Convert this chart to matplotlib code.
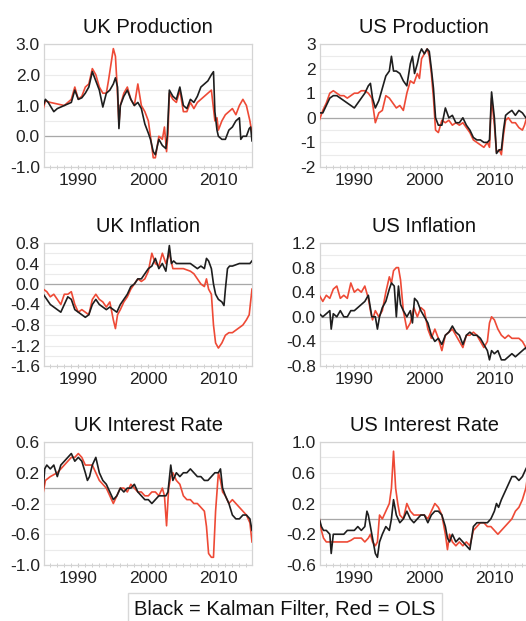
import numpy as np
import matplotlib
matplotlib.use('Agg')
import matplotlib.pyplot as plt
from matplotlib.ticker import MultipleLocator, FixedLocator

plt.rcParams['font.family'] = ['Liberation Sans', 'DejaVu Sans']

#**************** data ****************#
# UK Production
ukp_kf_t = [1985.0, 1985.3, 1985.7, 1986.5, 1987.0, 1988.0, 1988.5, 1989.0, 1989.5, 1990.0, 1990.5, 1991.0, 1991.5,
            1992.0, 1992.5, 1993.0, 1993.5, 1994.0, 1994.5, 1995.0, 1995.3, 1995.6, 1995.8, 1996.0, 1996.5, 1997.0,
            1997.5, 1998.0, 1998.5, 1999.0, 1999.5, 2000.0, 2000.3, 2000.7, 2001.0, 2001.5, 2002.0, 2002.5, 2002.7,
            2003.0, 2003.5, 2004.0, 2004.5, 2005.0, 2005.5, 2006.0, 2006.5, 2007.0, 2007.5, 2008.0, 2008.5, 2009.0,
            2009.3, 2009.5, 2009.8, 2010.0, 2010.5, 2011.0, 2011.5, 2012.0, 2012.5, 2013.0, 2013.2, 2013.5, 2014.0,
            2014.4, 2014.6, 2014.8]
ukp_kf = [1.0, 1.2, 1.1, 0.8, 0.9, 1.0, 1.05, 1.1, 1.5, 1.2, 1.25, 1.4, 1.6,
          2.1, 1.8, 1.5, 0.95, 1.4, 1.5, 1.7, 1.9, 1.6, 0.25, 1.0, 1.3, 1.5,
          1.2, 1.0, 1.1, 0.9, 0.4, 0.1, -0.1, -0.5, -0.6, -0.1, -0.3, -0.4, 0.0,
          1.5, 1.3, 1.2, 1.6, 1.0, 0.9, 1.2, 1.1, 1.3, 1.6, 1.7, 1.8, 2.0,
          2.1, 0.8, 0.2, 0.0, -0.1, -0.1, 0.2, 0.3, 0.5, 0.6, -0.1, 0.0, 0.0,
          0.25, 0.3, -0.15]
ukp_ols_t = [1985.0, 1985.3, 1986.0, 1987.0, 1988.0, 1988.5, 1989.0, 1989.5, 1990.0, 1990.5, 1991.0, 1991.5, 1992.0,
             1992.5, 1993.0, 1993.5, 1994.0, 1994.3, 1994.7, 1995.0, 1995.3, 1995.5, 1995.8, 1996.0, 1996.5, 1997.0,
             1997.5, 1998.0, 1998.5, 1999.0, 1999.5, 2000.0, 2000.3, 2000.7, 2001.0, 2001.5, 2002.0, 2002.3, 2002.6,
             2002.8, 2003.0, 2003.5, 2004.0, 2004.5, 2005.0, 2005.5, 2006.0, 2006.5, 2007.0, 2007.5, 2008.0, 2008.5,
             2009.0, 2009.5, 2009.8, 2010.0, 2010.5, 2011.0, 2011.5, 2012.0, 2012.5, 2013.0, 2013.5, 2014.0, 2014.5,
             2014.8]
ukp_ols = [0.9, 1.15, 1.1, 1.05, 1.0, 1.1, 1.2, 1.6, 1.2, 1.3, 1.6, 1.7, 2.2,
           2.0, 1.6, 1.4, 1.4, 1.8, 2.4, 2.85, 2.6, 1.8, 0.4, 1.0, 1.4, 1.6,
           1.2, 1.0, 1.7, 1.0, 0.8, 0.5, 0.0, -0.7, -0.7, 0.0, -0.1, 0.3, -0.5,
           0.1, 1.4, 1.2, 1.1, 1.5, 0.8, 0.8, 1.1, 0.9, 1.1, 1.2, 1.3, 1.4,
           1.5, 0.5, 0.6, 0.2, 0.5, 0.7, 0.8, 0.9, 0.7, 1.0, 1.2, 1.0, 0.5,
           0.1]

# US Production
usp_kf_t = [1985.0, 1985.5, 1986.0, 1986.5, 1987.0, 1987.5, 1988.0, 1988.5, 1989.0, 1989.5, 1990.0, 1990.5, 1991.0,
            1991.5, 1992.0, 1992.3, 1992.6, 1993.0, 1993.5, 1994.0, 1994.5, 1995.0, 1995.3, 1995.6, 1996.0, 1996.5,
            1997.0, 1997.5, 1998.0, 1998.3, 1998.6, 1999.0, 1999.3, 1999.6, 2000.0, 2000.4, 2000.7, 2001.0, 2001.3,
            2001.6, 2002.0, 2002.5, 2003.0, 2003.5, 2004.0, 2004.5, 2005.0, 2005.5, 2006.0, 2006.5, 2007.0, 2007.5,
            2008.0, 2008.5, 2009.0, 2009.3, 2009.6, 2010.0, 2010.3, 2010.7, 2011.0, 2011.3, 2011.6, 2012.0, 2012.5,
            2013.0, 2013.5, 2014.0, 2014.5, 2014.8]
usp_kf = [0.2, 0.2, 0.5, 0.8, 0.9, 0.9, 0.8, 0.7, 0.6, 0.5, 0.4, 0.6, 0.8,
          1.0, 1.3, 1.4, 0.8, 0.4, 0.7, 1.2, 1.7, 1.9, 2.5, 1.9, 1.9, 1.8,
          1.5, 1.3, 2.2, 2.5, 1.8, 2.2, 2.6, 2.8, 2.6, 2.8, 2.7, 2.0, 1.2,
          0.0, -0.3, -0.3, 0.4, 0.0, 0.1, -0.2, -0.2, 0.0, -0.3, -0.5, -0.8, -0.9,
          -0.9, -1.0, -1.0, -0.9, 1.05, 0.0, -1.45, -1.3, -1.3, -0.5, 0.1, 0.2, 0.3,
          0.1, 0.3, 0.2, 0.0, 0.05]
usp_ols_t = [1985.0, 1985.5, 1986.0, 1986.5, 1987.0, 1987.5, 1988.0, 1988.5, 1989.0, 1989.5, 1990.0, 1990.5, 1991.0,
             1991.5, 1992.0, 1992.5, 1993.0, 1993.5, 1994.0, 1994.5, 1995.0, 1995.5, 1996.0, 1996.5, 1997.0, 1997.5,
             1998.0, 1998.5, 1999.0, 1999.3, 1999.6, 2000.0, 2000.4, 2000.7, 2001.0, 2001.3, 2001.6, 2002.0, 2002.5,
             2003.0, 2003.5, 2004.0, 2004.5, 2005.0, 2005.5, 2006.0, 2006.5, 2007.0, 2007.5, 2008.0, 2008.5, 2009.0,
             2009.3, 2009.6, 2010.0, 2010.3, 2010.7, 2011.0, 2011.3, 2011.6, 2012.0, 2012.5, 2013.0, 2013.5, 2014.0,
             2014.3, 2014.8]
usp_ols = [-0.1, 0.3, 0.6, 1.0, 1.1, 1.0, 0.9, 0.9, 0.8, 0.9, 1.0, 1.0, 1.1,
           1.1, 1.0, 0.8, -0.2, 0.2, 0.3, 0.9, 0.8, 0.6, 0.4, 0.5, 0.3, 1.0,
           1.5, 1.4, 1.8, 1.6, 2.4, 2.6, 2.8, 2.5, 1.8, 0.8, -0.5, -0.6, -0.1,
           -0.2, -0.1, -0.3, -0.2, -0.3, -0.2, -0.4, -0.6, -0.9, -1.0, -1.1, -1.2, -1.0,
           -1.2, 0.8, -0.3, -1.4, -1.3, -1.5, -0.7, -0.1, 0.0, -0.2, -0.2, -0.4, -0.5,
           -0.3, 0.2]

# UK Inflation
uki_kf_t = [1985.0, 1985.5, 1986.0, 1986.5, 1987.0, 1987.5, 1988.0, 1988.5, 1989.0, 1989.5, 1990.0, 1990.5, 1991.0,
            1991.5, 1992.0, 1992.5, 1993.0, 1993.5, 1994.0, 1994.5, 1995.0, 1995.5, 1996.0, 1996.5, 1997.0, 1997.5,
            1998.0, 1998.5, 1999.0, 1999.5, 2000.0, 2000.5, 2001.0, 2001.5, 2002.0, 2002.5, 2003.0, 2003.3, 2003.6,
            2004.0, 2005.0, 2006.0, 2006.5, 2007.0, 2007.5, 2008.0, 2008.3, 2008.6, 2009.0, 2009.3, 2009.6, 2010.0,
            2010.5, 2010.8, 2011.0, 2011.3, 2011.6, 2012.0, 2013.0, 2014.0, 2014.5, 2014.8]
uki_kf = [-0.2, -0.3, -0.4, -0.45, -0.5, -0.55, -0.4, -0.25, -0.3, -0.5, -0.55, -0.6, -0.65,
          -0.6, -0.4, -0.3, -0.4, -0.45, -0.5, -0.45, -0.5, -0.55, -0.4, -0.3, -0.2, -0.05,
          0.0, 0.1, 0.1, 0.2, 0.3, 0.35, 0.5, 0.3, 0.4, 0.25, 0.75, 0.4, 0.45,
          0.4, 0.4, 0.4, 0.35, 0.3, 0.35, 0.3, 0.5, 0.45, 0.3, 0.0, -0.2, -0.3,
          -0.35, -0.42, -0.1, 0.3, 0.35, 0.35, 0.4, 0.4, 0.4, 0.45]
uki_ols_t = [1985.0, 1985.5, 1986.0, 1986.5, 1987.0, 1987.5, 1988.0, 1988.5, 1989.0, 1989.5, 1990.0, 1990.5, 1991.0,
             1991.5, 1992.0, 1992.5, 1993.0, 1993.5, 1994.0, 1994.5, 1995.0, 1995.3, 1995.6, 1996.0, 1996.5, 1997.0,
             1997.5, 1998.0, 1998.5, 1999.0, 1999.5, 2000.0, 2000.5, 2001.0, 2001.5, 2002.0, 2002.5, 2003.0, 2003.5,
             2004.0, 2005.0, 2006.0, 2006.5, 2007.0, 2007.5, 2008.0, 2008.3, 2008.6, 2009.0, 2009.3, 2009.6, 2010.0,
             2010.5, 2011.0, 2011.5, 2012.0, 2012.5, 2013.0, 2013.5, 2014.0, 2014.4, 2014.8]
uki_ols = [-0.1, -0.15, -0.25, -0.2, -0.3, -0.4, -0.2, -0.2, -0.15, -0.4, -0.55, -0.5, -0.55,
           -0.6, -0.3, -0.2, -0.3, -0.35, -0.45, -0.35, -0.7, -0.87, -0.6, -0.5, -0.35, -0.25,
           -0.1, 0.0, 0.1, 0.05, 0.1, 0.25, 0.6, 0.4, 0.35, 0.6, 0.4, 0.6, 0.3,
           0.3, 0.3, 0.25, 0.2, 0.1, 0.0, -0.05, 0.1, -0.1, -0.2, -0.8, -1.15, -1.25,
           -1.15, -1.0, -0.95, -0.95, -0.9, -0.85, -0.8, -0.7, -0.6, -0.1]

# US Inflation
usi_kf_t = [1985.0, 1985.5, 1986.0, 1986.5, 1986.7, 1987.0, 1987.5, 1988.0, 1988.5, 1989.0, 1989.5, 1990.0, 1990.5,
            1991.0, 1991.5, 1992.0, 1992.5, 1993.0, 1993.3, 1993.6, 1994.0, 1994.5, 1995.0, 1995.3, 1995.7, 1996.0,
            1996.3, 1996.6, 1997.0, 1997.5, 1998.0, 1998.3, 1998.6, 1999.0, 1999.5, 2000.0, 2000.5, 2001.0, 2001.5,
            2002.0, 2002.5, 2003.0, 2003.5, 2004.0, 2004.5, 2005.0, 2005.5, 2006.0, 2006.5, 2007.0, 2007.5, 2008.0,
            2008.5, 2009.0, 2009.3, 2009.6, 2010.0, 2010.5, 2011.0, 2011.5, 2012.0, 2012.5, 2013.0, 2013.5, 2014.0,
            2014.5, 2014.8]
usi_kf = [0.05, 0.0, 0.05, 0.1, -0.2, 0.05, 0.0, 0.1, 0.0, 0.0, 0.1, 0.1, 0.15,
          0.2, 0.25, 0.35, 0.0, 0.0, -0.2, 0.0, 0.15, 0.25, 0.45, 0.55, 0.5, 0.0,
          0.5, 0.2, 0.1, 0.0, 0.1, -0.1, 0.3, 0.25, 0.1, 0.0, -0.1, -0.3, -0.4,
          -0.35, -0.45, -0.3, -0.25, -0.15, -0.25, -0.3, -0.45, -0.3, -0.25, -0.3, -0.3, -0.35,
          -0.45, -0.55, -0.7, -0.55, -0.6, -0.55, -0.7, -0.7, -0.65, -0.6, -0.65, -0.6, -0.55,
          -0.5, -0.6]
usi_ols_t = [1985.0, 1985.5, 1986.0, 1986.5, 1987.0, 1987.5, 1988.0, 1988.5, 1989.0, 1989.5, 1990.0, 1990.5, 1991.0,
             1991.5, 1992.0, 1992.3, 1992.6, 1993.0, 1993.5, 1994.0, 1994.5, 1995.0, 1995.3, 1995.6, 1996.0, 1996.3,
             1996.6, 1997.0, 1997.5, 1998.0, 1998.5, 1999.0, 1999.5, 2000.0, 2000.5, 2001.0, 2001.5, 2002.0, 2002.5,
             2003.0, 2003.5, 2004.0, 2004.5, 2005.0, 2005.5, 2006.0, 2006.5, 2007.0, 2007.5, 2008.0, 2008.5, 2009.0,
             2009.3, 2009.6, 2010.0, 2010.5, 2011.0, 2011.5, 2012.0, 2012.5, 2013.0, 2013.5, 2014.0, 2014.5, 2014.8]
usi_ols = [0.35, 0.25, 0.35, 0.3, 0.45, 0.5, 0.3, 0.35, 0.3, 0.55, 0.4, 0.45, 0.4,
           0.5, 0.3, 0.1, -0.05, 0.1, 0.0, 0.1, 0.4, 0.65, 0.55, 0.75, 0.8, 0.8,
           0.6, 0.1, -0.2, -0.1, 0.15, 0.0, 0.15, 0.1, -0.2, -0.35, -0.2, -0.35, -0.55,
           -0.3, -0.25, -0.2, -0.3, -0.4, -0.5, -0.3, -0.3, -0.25, -0.3, -0.4, -0.5, -0.4,
           -0.1, 0.0, -0.05, -0.2, -0.3, -0.35, -0.3, -0.35, -0.35, -0.35, -0.4, -0.5, -0.45]

# UK Interest Rate
ukr_kf_t = [1985.0, 1985.2, 1985.5, 1986.0, 1986.5, 1987.0, 1987.5, 1988.0, 1988.5, 1989.0, 1989.5, 1990.0, 1990.5,
            1991.0, 1991.3, 1991.6, 1992.0, 1992.5, 1993.0, 1993.5, 1994.0, 1994.5, 1995.0, 1995.5, 1996.0, 1996.5,
            1997.0, 1997.5, 1998.0, 1998.5, 1999.0, 1999.5, 2000.0, 2000.5, 2001.0, 2001.5, 2002.0, 2002.5, 2002.8,
            2003.2, 2003.5, 2004.0, 2004.5, 2005.0, 2005.5, 2006.0, 2006.5, 2007.0, 2007.5, 2008.0, 2008.5, 2009.0,
            2009.5, 2010.0, 2010.3, 2010.6, 2011.0, 2011.5, 2012.0, 2012.5, 2013.0, 2013.5, 2014.0, 2014.5, 2014.8]
ukr_kf = [0.0, 0.25, 0.3, 0.25, 0.3, 0.15, 0.3, 0.35, 0.4, 0.45, 0.35, 0.4, 0.35,
          0.2, 0.1, 0.15, 0.3, 0.4, 0.2, 0.1, 0.05, -0.05, -0.15, -0.1, 0.0, -0.05,
          0.0, 0.0, 0.05, -0.05, -0.1, -0.15, -0.15, -0.2, -0.15, -0.1, -0.1, -0.1, -0.05,
          0.3, 0.1, 0.2, 0.15, 0.2, 0.2, 0.25, 0.2, 0.15, 0.15, 0.1, 0.1, 0.15,
          0.2, 0.2, 0.25, 0.0, -0.1, -0.2, -0.35, -0.4, -0.4, -0.35, -0.35, -0.4, -0.55]
ukr_ols_t = [1985.0, 1985.3, 1986.0, 1987.0, 1987.5, 1988.0, 1988.5, 1989.0, 1989.5, 1990.0, 1990.5, 1991.0, 1991.5,
             1992.0, 1992.5, 1993.0, 1993.5, 1994.0, 1994.5, 1995.0, 1995.5, 1996.0, 1996.5, 1997.0, 1997.5, 1998.0,
             1998.5, 1999.0, 1999.5, 2000.0, 2000.5, 2001.0, 2001.5, 2002.0, 2002.3, 2002.6, 2002.9, 2003.2, 2003.5,
             2004.0, 2004.5, 2005.0, 2005.5, 2006.0, 2006.5, 2007.0, 2007.5, 2008.0, 2008.3, 2008.6, 2009.0, 2009.3,
             2009.6, 2010.0, 2010.3, 2010.6, 2011.0, 2011.5, 2012.0, 2012.5, 2013.0, 2013.5, 2014.0, 2014.5, 2014.8]
ukr_ols = [-0.05, 0.1, 0.15, 0.2, 0.25, 0.3, 0.35, 0.4, 0.4, 0.45, 0.4, 0.3, 0.3,
           0.3, 0.2, 0.1, 0.05, 0.0, -0.1, -0.2, -0.1, 0.0, 0.0, -0.05, 0.05, 0.0,
           -0.05, -0.05, -0.1, -0.1, -0.05, -0.05, -0.1, 0.0, -0.1, -0.49, 0.0, 0.15, 0.2,
           0.1, 0.05, -0.1, -0.15, -0.15, -0.2, -0.2, -0.25, -0.3, -0.5, -0.85, -0.9, -0.9,
           -0.3, 0.2, 0.1, -0.05, -0.1, -0.2, -0.15, -0.2, -0.25, -0.3, -0.35, -0.45, -0.7]

# US Interest Rate
usr_kf_t = [1985.0, 1985.3, 1985.6, 1986.0, 1986.5, 1986.7, 1987.0, 1987.5, 1988.0, 1988.5, 1989.0, 1989.5, 1990.0,
            1990.5, 1991.0, 1991.5, 1991.8, 1992.0, 1992.3, 1992.6, 1993.0, 1993.3, 1993.6, 1994.0, 1994.5, 1995.0,
            1995.3, 1995.6, 1996.0, 1996.5, 1997.0, 1997.5, 1998.0, 1998.5, 1999.0, 1999.5, 2000.0, 2000.5, 2001.0,
            2001.5, 2002.0, 2002.5, 2003.0, 2003.3, 2003.6, 2004.0, 2004.5, 2005.0, 2005.5, 2006.0, 2006.5, 2007.0,
            2007.5, 2008.0, 2008.5, 2009.0, 2009.5, 2010.0, 2010.3, 2010.6, 2011.0, 2011.5, 2012.0, 2012.5, 2013.0,
            2013.5, 2014.0, 2014.5, 2014.8]
usr_kf = [0.0, -0.1, -0.15, -0.15, -0.2, -0.45, -0.2, -0.2, -0.2, -0.2, -0.15, -0.15, -0.15,
          -0.1, -0.15, -0.1, 0.1, 0.05, -0.1, -0.25, -0.45, -0.5, -0.3, -0.2, -0.1, -0.15,
          0.0, 0.25, 0.05, -0.05, 0.0, 0.1, 0.0, -0.05, 0.0, 0.05, 0.05, -0.05, 0.05,
          0.1, 0.1, 0.05, -0.1, -0.25, -0.3, -0.2, -0.3, -0.25, -0.3, -0.35, -0.4, -0.1,
          -0.05, -0.05, -0.05, -0.05, 0.0, 0.1, 0.2, 0.15, 0.25, 0.35, 0.45, 0.55, 0.55,
          0.5, 0.55, 0.65, 0.7]
usr_ols_t = [1985.0, 1985.3, 1985.6, 1986.0, 1987.0, 1988.0, 1989.0, 1989.5, 1990.0, 1991.0, 1991.5, 1992.0, 1992.3,
             1992.6, 1993.0, 1993.3, 1993.6, 1994.0, 1994.5, 1995.0, 1995.3, 1995.6, 1995.9, 1996.2, 1996.5, 1997.0,
             1997.5, 1998.0, 1998.5, 1999.0, 2000.0, 2000.5, 2001.0, 2001.5, 2002.0, 2002.5, 2003.0, 2003.3, 2003.6,
             2004.0, 2004.5, 2005.0, 2005.5, 2006.0, 2006.5, 2007.0, 2007.5, 2008.0, 2008.5, 2009.0, 2009.5, 2010.0,
             2010.5, 2011.0, 2011.5, 2012.0, 2012.5, 2013.0, 2013.5, 2014.0, 2014.5, 2014.8]
usr_ols = [0.0, -0.15, -0.25, -0.3, -0.3, -0.3, -0.3, -0.28, -0.25, -0.25, -0.3, -0.25, -0.2,
           -0.3, -0.35, -0.3, 0.05, 0.0, 0.1, 0.2, 0.4, 0.88, 0.4, 0.2, 0.05, 0.0,
           0.2, 0.1, 0.05, 0.05, 0.05, 0.0, 0.1, 0.2, 0.15, 0.05, -0.2, -0.4, -0.2,
           -0.3, -0.35, -0.3, -0.35, -0.3, -0.35, -0.15, -0.1, -0.05, -0.05, -0.1, -0.1, -0.15,
           -0.2, -0.15, -0.1, -0.05, 0.0, 0.1, 0.15, 0.25, 0.4, 0.6]

titles = ['UK Production', 'US Production', 'UK Inflation', 'US Inflation', 'UK Interest Rate', 'US Interest Rate']
ylims = [(-1.0, 3.0), (-2, 3), (-1.6, 0.8), (-0.8, 1.2), (-1.0, 0.6), (-0.6, 1.0)]
ysteps = [1.0, 1, 0.4, 0.4, 0.4, 0.4]
yfmt = ['%.1f', '%d', '%.1f', '%.1f', '%.1f', '%.1f']
series = [(ukp_kf_t, ukp_kf, ukp_ols_t, ukp_ols), (usp_kf_t, usp_kf, usp_ols_t, usp_ols),
          (uki_kf_t, uki_kf, uki_ols_t, uki_ols), (usi_kf_t, usi_kf, usi_ols_t, usi_ols),
          (ukr_kf_t, ukr_kf, ukr_ols_t, ukr_ols), (usr_kf_t, usr_kf, usr_ols_t, usr_ols)]

#**************** figure ****************#
W, H = 526, 621
fig = plt.figure(figsize=(W / 100, H / 100), dpi=100)

lefts = [44, 320]
tops = [44, 243, 442]
aw, ah = 208, 123
grey = '#d4d4d4'

for i in range(6):
    r, c = divmod(i, 2)
    ax = fig.add_axes([lefts[c] / W, 1 - (tops[r] + ah) / H, aw / W, ah / H])
    kt, kv, ot, ov = series[i]
    lo, hi = ylims[i]
    step = ysteps[i]
    # round away float noise (and negative zero) so labels read 0.0 not -0.0
    major = np.round(np.arange(lo, hi + step / 10, step), 6) + 0.0
    minor = np.round(np.arange(lo, hi + step / 20, step / 2), 6) + 0.0

    ax.set_xlim(1985.1, 2014.8)
    ax.set_ylim(lo, hi)
    ax.yaxis.set_major_locator(FixedLocator(major))
    ax.yaxis.set_minor_locator(FixedLocator(minor))
    ax.yaxis.set_major_formatter(plt.FormatStrFormatter(yfmt[i]))
    ax.xaxis.set_major_locator(FixedLocator([1990, 2000, 2010]))
    ax.xaxis.set_minor_locator(MultipleLocator(1))

    ax.grid(True, axis='y', which='both', color='#ebebeb', lw=0.8)
    ax.axhline(0, color='#a8a8a8', lw=0.9, zorder=1.5)

    ax.plot(ot, ov, color='#ee4a36', lw=1.2, zorder=3)
    ax.plot(kt, kv, color='#1e1e1e', lw=1.2, zorder=3)

    for s in ax.spines.values():
        s.set_color(grey)
        s.set_linewidth(0.9)
    ax.tick_params(axis='y', which='both', length=0, pad=3, labelsize=12.5, labelcolor='#222222')
    ax.tick_params(axis='x', which='major', length=3, direction='inout', color='#c8c8c8', pad=3,
                   labelsize=12.5, labelcolor='#222222')
    ax.tick_params(axis='x', which='minor', length=2.5, direction='inout', color='#c8c8c8')
    ax.set_axisbelow(True)
    ax.set_title(titles[i], fontsize=14.5, pad=8, color='#111111')

fig.text(285 / W, 1 - 609 / H, 'Black = Kalman Filter, Red = OLS', ha='center', va='center',
         fontsize=14.5, color='#111111',
         bbox=dict(boxstyle='square,pad=0.3', fc='white', ec='#d8d8d8', lw=1.0))

fig.savefig('out.png', dpi=100)
